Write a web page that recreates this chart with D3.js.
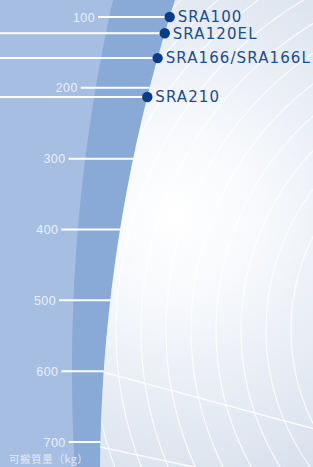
<!DOCTYPE html>
<html>
<head>
<meta charset="utf-8">
<script src="https://cdn.jsdelivr.net/npm/d3@7/dist/d3.min.js"></script>
<style>
html, body { margin: 0; padding: 0; overflow: hidden; background: #fff; }
</style>
</head>
<body>
<svg id="chart" width="313" height="467"></svg>
<script>
var tickValues = [100, 200, 300, 400, 500, 600, 700];
var models = ["SRA100", "SRA120EL", "SRA166/SRA166L", "SRA210"];
var payloads = [100, 123, 158, 213];
var axisTitle = "可搬質量（kg）";

var width = 313, height = 467;
var svg = d3.select("#chart");

var y = d3.scaleLinear().domain([100, 700]).range([17, 442]);

// the bands are pieces of very large circles centred off to the right
function outerEdge(py) { var dy = py - 480; return 1673 - Math.sqrt(1573 * 1573 - dy * dy); }
function innerEdge(py) { var dy = py - 370; return 1762 - Math.sqrt(1690 * 1690 - dy * dy); }
function labelEdge(py) { var dy = py - 300; return 1102 - Math.sqrt(1046 * 1046 - dy * dy); }

var rows = d3.range(-2, height + 3, 3);
var line = d3.line();

function band(leftFn, rightFn) {
    var pts = rows.map(function(r) { return [leftFn(r), r]; });
    var back = rows.slice().reverse().map(function(r) { return [rightFn(r), r]; });
    return line(pts.concat(back)) + "Z";
}

var defs = svg.append("defs");
var grad = defs.append("radialGradient")
    .attr("id", "whiteGrad")
    .attr("gradientUnits", "userSpaceOnUse")
    .attr("cx", 175).attr("cy", 215).attr("r", 290);
grad.append("stop").attr("offset", "0").attr("stop-color", "#ffffff");
grad.append("stop").attr("offset", "0.3").attr("stop-color", "#f7f9fc");
grad.append("stop").attr("offset", "1").attr("stop-color", "#d7e0ec");

var whitePath = band(outerEdge, function() { return width + 5; });
defs.append("clipPath").attr("id", "whiteClip").append("path").attr("d", whitePath);

//Background
svg.append("rect").attr("width", width).attr("height", height).attr("fill", "#a6bee2");
svg.append("path").attr("d", band(innerEdge, outerEdge)).attr("fill", "#89a9d7");
svg.append("path").attr("d", whitePath).attr("fill", "url(#whiteGrad)");

//Decorative arcs
var deco = svg.append("g").attr("clip-path", "url(#whiteClip)");
deco.selectAll("circle")
    .data(d3.range(134, 580, 25))
    .enter()
    .append("circle")
    .attr("cx", 500)
    .attr("cy", 330)
    .attr("r", function(d) { return d; })
    .attr("fill", "none")
    .attr("stroke", "#ffffff")
    .attr("stroke-opacity", 0.8)
    .attr("stroke-width", 1.2);
deco.append("line").attr("x1", 95).attr("y1", 370).attr("x2", 330).attr("y2", 433)
    .attr("stroke", "#ffffff").attr("stroke-width", 1.5).attr("stroke-opacity", 0.85);
deco.append("line").attr("x1", 95).attr("y1", 446).attr("x2", 330).attr("y2", 496)
    .attr("stroke", "#ffffff").attr("stroke-width", 1.5).attr("stroke-opacity", 0.85);

//Ticks
var ticks = svg.append("g").selectAll("g")
    .data(tickValues)
    .enter()
    .append("g");

ticks.append("line")
    .attr("x1", function(d) { return labelEdge(y(d)) + 3; })
    .attr("x2", function(d) { return outerEdge(y(d)); })
    .attr("y1", function(d) { return y(d); })
    .attr("y2", function(d) { return y(d); })
    .attr("stroke", "#ffffff")
    .attr("stroke-width", 2);

ticks.append("text")
    .attr("x", function(d) { return labelEdge(y(d)); })
    .attr("y", function(d) { return y(d); })
    .attr("dy", "0.36em")
    .style("text-anchor", "end")
    .style("font-family", "'Liberation Sans', Arial, sans-serif")
    .style("font-size", "12.5px")
    .style("letter-spacing", "0.4px")
    .style("fill", "#e9eff8")
    .text(function(d) { return d; });

//Models
var marks = svg.append("g").selectAll("g")
    .data(models)
    .enter()
    .append("g");

marks.filter(function(d, i) { return tickValues.indexOf(payloads[i]) < 0; })
    .append("line")
    .attr("x1", 0)
    .attr("x2", function(d) { return outerEdge(y(payloads[models.indexOf(d)])); })
    .attr("y1", function(d) { return y(payloads[models.indexOf(d)]); })
    .attr("y2", function(d) { return y(payloads[models.indexOf(d)]); })
    .attr("stroke", "#ffffff")
    .attr("stroke-width", 2);

marks.append("circle")
    .attr("cx", function(d, i) { return outerEdge(y(payloads[i])); })
    .attr("cy", function(d, i) { return y(payloads[i]); })
    .attr("r", 5.2)
    .attr("fill", "#0b3c8a");

marks.append("text")
    .attr("x", function(d, i) { return outerEdge(y(payloads[i])) + 8; })
    .attr("y", function(d, i) { return y(payloads[i]); })
    .attr("dy", "0.36em")
    .style("font-family", "'DejaVu Sans', sans-serif")
    .style("font-size", "15px")
    .style("letter-spacing", "1.1px")
    .style("fill", "#1b4c97")
    .text(function(d) { return d; });

//Axis title
svg.append("text")
    .attr("x", 9)
    .attr("y", 463)
    .style("font-family", "'Noto Sans CJK JP', sans-serif")
    .style("font-size", "10.5px")
    .style("letter-spacing", "0.6px")
    .style("fill", "#e3eaf5")
    .text(axisTitle);
</script>
</body>
</html>
